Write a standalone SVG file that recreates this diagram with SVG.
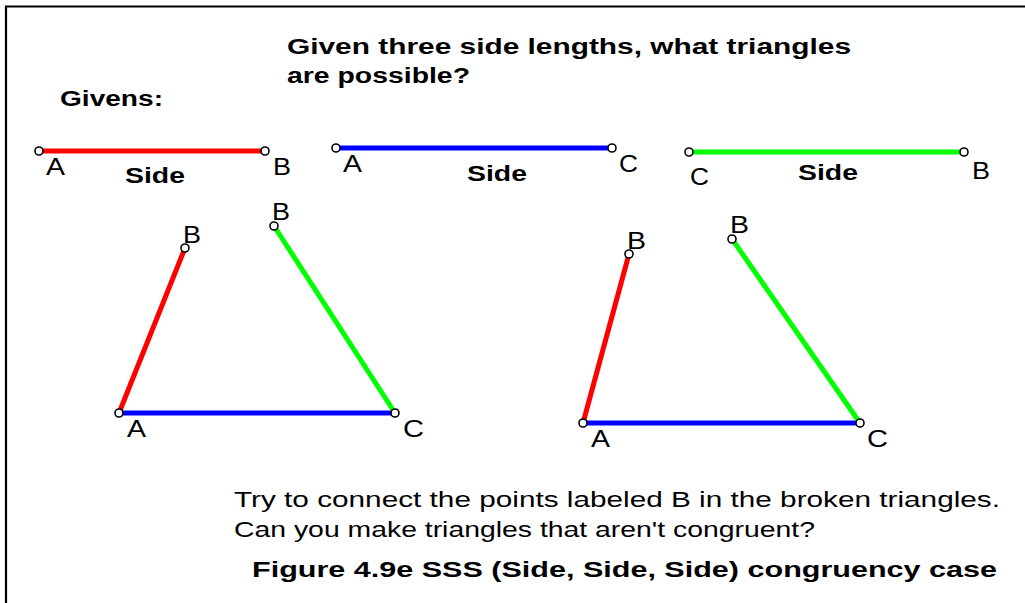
<svg xmlns="http://www.w3.org/2000/svg" width="1025" height="603" viewBox="0 0 1025 603">
<style>
.t{font-family:"Liberation Sans",Arial,sans-serif;fill:#000}
.b{font-weight:bold;font-size:22px}
.n{font-size:22px}
.lbl{font-size:23px}
.sd{font-weight:bold;font-size:22px}
.seg{stroke-width:5;stroke-linecap:butt;fill:none}
.r{stroke:#ff0000}.bl{stroke:#0000ff}.g{stroke:#00ff00}
.pt{fill:#fff;stroke:#000;stroke-width:1.6}
</style>
<rect width="1025" height="603" fill="#fff"/>
<path d="M6,603 V6.5 H1025" fill="none" stroke="#000" stroke-width="2.2"/>
<g id="title">
<text class="t b" x="287" y="54" textLength="564" lengthAdjust="spacingAndGlyphs">Given three side lengths, what triangles</text>
<text class="t b" x="287" y="83" textLength="183" lengthAdjust="spacingAndGlyphs">are possible?</text>
<text class="t b" x="60" y="106" textLength="103" lengthAdjust="spacingAndGlyphs">Givens:</text>
</g>
<g id="connectors">
<line class="seg r" x1="39" y1="151" x2="265" y2="151"/>
<line class="seg bl" x1="336" y1="148" x2="612" y2="148"/>
<line class="seg g" x1="689" y1="152" x2="964" y2="152"/>
<line class="seg r" x1="119" y1="413" x2="185" y2="248"/>
<line class="seg bl" x1="119" y1="413" x2="395" y2="413"/>
<line class="seg g" x1="395" y1="413" x2="274" y2="226"/>
<line class="seg r" x1="583" y1="423" x2="629" y2="254"/>
<line class="seg bl" x1="583" y1="423" x2="860" y2="423"/>
<line class="seg g" x1="860" y1="423" x2="732" y2="239"/>
</g>
<g id="given-AB">
<circle class="pt" cx="39" cy="151" r="4"/>
<circle class="pt" cx="265" cy="151" r="4"/>
<text class="t lbl" x="46" y="175" textLength="19" lengthAdjust="spacingAndGlyphs">A</text>
<text class="t lbl" x="273" y="175" textLength="18" lengthAdjust="spacingAndGlyphs">B</text>
<text class="t sd" x="125" y="183" textLength="60" lengthAdjust="spacingAndGlyphs">Side</text>
</g>
<g id="given-AC">
<circle class="pt" cx="336" cy="148" r="4"/>
<circle class="pt" cx="612" cy="148" r="4"/>
<text class="t lbl" x="343" y="172" textLength="19" lengthAdjust="spacingAndGlyphs">A</text>
<text class="t lbl" x="619" y="172" textLength="19" lengthAdjust="spacingAndGlyphs">C</text>
<text class="t sd" x="467" y="181" textLength="60" lengthAdjust="spacingAndGlyphs">Side</text>
</g>
<g id="given-CB">
<circle class="pt" cx="689" cy="152" r="4"/>
<circle class="pt" cx="964" cy="152" r="4"/>
<text class="t lbl" x="690" y="185" textLength="19" lengthAdjust="spacingAndGlyphs">C</text>
<text class="t lbl" x="972" y="179" textLength="18" lengthAdjust="spacingAndGlyphs">B</text>
<text class="t sd" x="798" y="180" textLength="60" lengthAdjust="spacingAndGlyphs">Side</text>
</g>
<g id="triangle1">
<circle class="pt" cx="119" cy="413" r="4"/>
<circle class="pt" cx="395" cy="413" r="4"/>
<circle class="pt" cx="185" cy="248" r="4"/>
<circle class="pt" cx="274" cy="226" r="4"/>
<text class="t lbl" x="127" y="437" textLength="19" lengthAdjust="spacingAndGlyphs">A</text>
<text class="t lbl" x="403" y="437" textLength="21" lengthAdjust="spacingAndGlyphs">C</text>
<text class="t lbl" x="183" y="243" textLength="18" lengthAdjust="spacingAndGlyphs">B</text>
<text class="t lbl" x="272" y="220" textLength="18" lengthAdjust="spacingAndGlyphs">B</text>
</g>
<g id="triangle2">
<circle class="pt" cx="583" cy="423" r="4"/>
<circle class="pt" cx="860" cy="423" r="4"/>
<circle class="pt" cx="629" cy="254" r="4"/>
<circle class="pt" cx="732" cy="239" r="4"/>
<text class="t lbl" x="591" y="447" textLength="19" lengthAdjust="spacingAndGlyphs">A</text>
<text class="t lbl" x="867" y="447" textLength="21" lengthAdjust="spacingAndGlyphs">C</text>
<text class="t lbl" x="627" y="249" textLength="19" lengthAdjust="spacingAndGlyphs">B</text>
<text class="t lbl" x="730" y="233" textLength="19" lengthAdjust="spacingAndGlyphs">B</text>
</g>
<g id="notes">
<text class="t n" x="234" y="507" textLength="766" lengthAdjust="spacingAndGlyphs">Try to connect the points labeled B in the broken triangles.</text>
<text class="t n" x="234" y="537" textLength="581" lengthAdjust="spacingAndGlyphs">Can you make triangles that aren't congruent?</text>
<text class="t b" x="252" y="577" textLength="745" lengthAdjust="spacingAndGlyphs">Figure 4.9e SSS (Side, Side, Side) congruency case</text>
</g>
</svg>
